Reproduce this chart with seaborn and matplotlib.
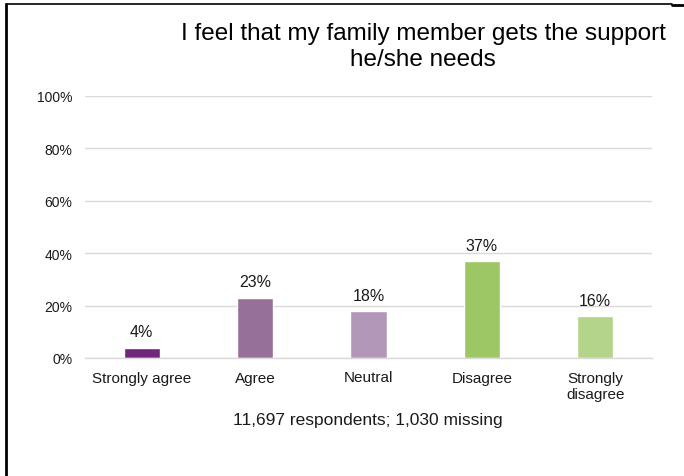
import matplotlib
matplotlib.use("Agg")
import matplotlib.pyplot as plt
import seaborn as sns
import pandas as pd
from matplotlib.lines import Line2D

categories = ["Strongly agree", "Agree", "Neutral", "Disagree", "Strongly\ndisagree"]
values = [0.04, 0.23, 0.18, 0.37, 0.16]
labels = ["4%", "23%", "18%", "37%", "16%"]
colors = ["#70277B", "#977099", "#B397B8", "#9DC764", "#B4D48A"]
yticks = [0, 0.2, 0.4, 0.6, 0.8, 1.0]
ytick_labels = ["0%", "20%", "40%", "60%", "80%", "100%"]
title = "I feel that my family member gets the support\nhe/she needs"
footnote = "11,697 respondents; 1,030 missing"

sns.set_style("white")
plt.rcParams["font.family"] = ["Liberation Sans", "DejaVu Sans"]

df = pd.DataFrame({"cat": categories, "val": values})

fig = plt.figure(figsize=(6.84, 4.77), dpi=100)
ax = fig.add_axes([85 / 684, 1 - 359 / 477, (652 - 85) / 684, (359 - 97) / 477])

sns.barplot(data=df, x="cat", y="val", hue="cat", palette=colors, order=categories,
            hue_order=categories, legend=False, width=0.32, ax=ax, saturation=1)

ax.set_ylim(0, 1)
ax.set_yticks(yticks)
ax.set_yticklabels(ytick_labels, fontsize=10, color="#1a1a1a")
ax.tick_params(axis="x", labelsize=11, colors="#1a1a1a", length=0, pad=9)
ax.tick_params(axis="y", length=0, pad=9)
ax.set_xlabel("")
ax.set_ylabel("")
ax.grid(axis="y", color="#D9D9D9", linewidth=1)
ax.set_axisbelow(True)
for s in ["top", "right", "left"]:
    ax.spines[s].set_visible(False)
ax.spines["bottom"].set_color("#D9D9D9")
ax.spines["bottom"].set_linewidth(1)

for i, (v, lab) in enumerate(zip(values, labels)):
    ax.annotate(lab, (i, v), xytext=(0, 6), textcoords="offset points",
                ha="center", va="bottom", fontsize=11.5, color="#1a1a1a")

fig.text(423 / 684, 1 - 47 / 477, title, ha="center", va="center", fontsize=17.5,
         color="#000000", linespacing=1.25)
fig.text(368 / 684, 1 - 421 / 477, footnote, ha="center", va="center", fontsize=12.5,
         color="#1a1a1a")

# frame lines
fig.add_artist(Line2D([6 / 684, 6 / 684], [0, 1 - 5 / 477], transform=fig.transFigure,
                      color="black", linewidth=2))
fig.add_artist(Line2D([6 / 684, 672 / 684], [1 - 5 / 477, 1 - 5 / 477], transform=fig.transFigure,
                      color="black", linewidth=1.2))
fig.add_artist(Line2D([672 / 684, 1], [1 - 6 / 477, 1 - 6 / 477], transform=fig.transFigure,
                      color="black", linewidth=2))

fig.savefig("out.png", dpi=100)
